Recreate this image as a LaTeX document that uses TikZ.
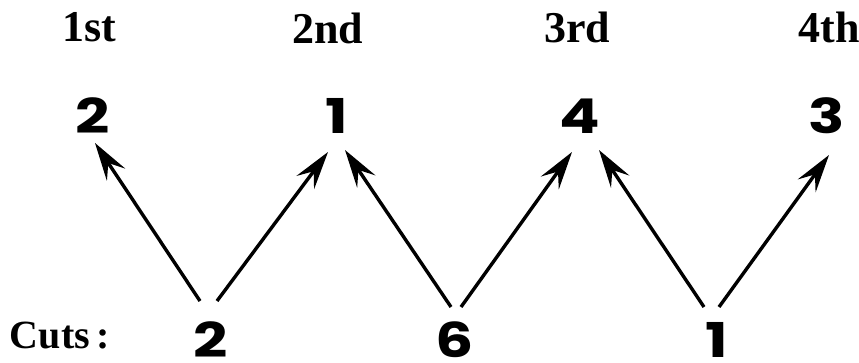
\documentclass[tikz,border=0pt]{standalone}
\usepackage{fontspec}
\setmainfont{Liberation Serif}
\newfontfamily\digitfont[FakeStretch=1.25]{Poppins}
\usetikzlibrary{arrows.meta}
\tikzset{
	head/.style={font=\fontsize{44}{44}\selectfont\bfseries, inner sep=0pt},
	num/.style={font=\fontsize{48}{48}\selectfont\digitfont\bfseries, inner sep=0pt, text height=0.7em, text depth=0pt},
	arr/.style={-{Stealth[length=38pt, width=22pt, inset=14pt]}, line width=3.4pt}
}
\begin{document}
\begin{tikzpicture}[x=1pt, y=1pt]
	\useasboundingbox (0,0) rectangle (859,362);
	%headings
	\node[head] (h1) at (89, 335){1st};
	\node[head] (h2) at (328, 334){2nd};
	\node[head] (h3) at (577, 335){3rd};
	\node[head] (h4) at (829, 335){4th};

	%order
	\node[num] (t1) at (93, 232){2};
	\node[num] (t2) at (337, 232){1};
	\node[num] (t3) at (580, 232){4};
	\node[num] (t4) at (827, 232){3};

	%cuts
	\node[head, font=\fontsize{40}{40}\selectfont\bfseries] (cuts) at (60, 26){Cuts\,:};
	\node[num] (b1) at (211, 8){2};
	\node[num] (b2) at (455, 8){6};
	\node[num] (b3) at (717, 8){1};

	\draw[arr] ([xshift=-11pt, yshift=53pt]b1.center) -- ([xshift=2pt, yshift=-13pt]t1.center);
	\draw[arr] ([xshift=6pt, yshift=53pt]b1.center) -- ([xshift=-9pt, yshift=-22pt]t2.center);
	\draw[arr] ([xshift=-4pt, yshift=47pt]b2.center) -- ([xshift=8pt, yshift=-20pt]t2.center);
	\draw[arr] ([xshift=6pt, yshift=47pt]b2.center) -- ([xshift=-8pt, yshift=-22pt]t3.center);
	\draw[arr] ([xshift=-13pt, yshift=47pt]b3.center) -- ([xshift=19pt, yshift=-20pt]t3.center);
	\draw[arr] ([xshift=2pt, yshift=47pt]b3.center) -- ([xshift=2pt, yshift=-25pt]t4.center);
\end{tikzpicture}
\end{document}
